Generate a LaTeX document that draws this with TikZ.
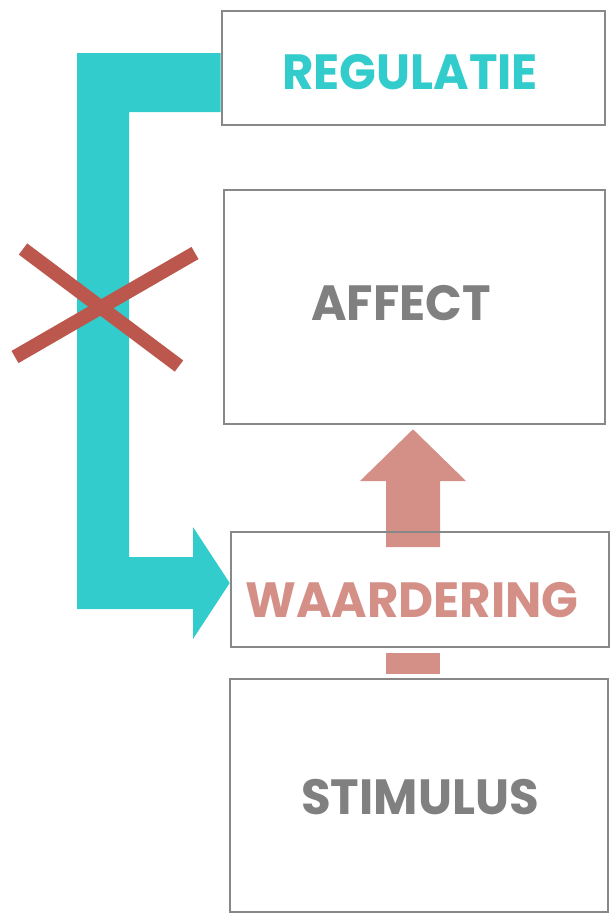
\documentclass[tikz,border=0pt]{standalone}
\usepackage{fontspec}
\setmainfont{Poppins}[FakeStretch=0.975]
\usetikzlibrary{calc}
\pgfdeclarelayer{background}
\pgfsetlayers{background,main}
\definecolor{tealc}{HTML}{33CCCC}
\definecolor{pinkc}{HTML}{D48F87}
\definecolor{redc}{HTML}{BB574C}
\definecolor{boxgray}{HTML}{888888}
\definecolor{txtgray}{HTML}{808080}
\tikzset{
  stagebox/.style={draw=boxgray, line width=2.6pt, inner sep=0pt, anchor=center},
  label/.style={inner sep=0pt, font=\fontsize{49.5}{50}\selectfont\bfseries},
  crossbar/.style={draw=redc, line width=14pt},
}
\begin{document}
\begin{tikzpicture}[x=1pt,y=-1pt]
  \useasboundingbox (0,0) rectangle (610,913);
  % stage boxes
  \node[stagebox, minimum width=383pt, minimum height=114pt] (reg) at (413.5,68) {};
  \node[stagebox, minimum width=381pt, minimum height=234pt] (aff) at (414.5,307) {};
  \node[stagebox, minimum width=378pt, minimum height=115pt] (waa) at (420,589.5) {};
  \node[stagebox, minimum width=378pt, minimum height=233pt] (sti) at (419,795.5) {};
  % labels
  \node[label, text=tealc] (regt) at (410,72) {REGULATIE};
  \node[label, text=txtgray] (afft) at (401,303) {AFFECT};
  \node[label, text=pinkc] (waat) at (412,600) {WAARDERING};
  \node[label, text=txtgray] (stit) at (420,797) {STIMULUS};
  % arrow tips
  \coordinate (looptip) at (waa.west |- 0,583);
  \coordinate (uptip) at ($(aff.south -| 413,0)+(0,4)$);
  \begin{pgfonlayer}{background}
    % regulation loop from REGULATIE back into WAARDERING
    \fill[tealc] (77,53) -- (reg.west |- 0,53) -- (reg.west |- 0,112) -- (129,112)
      -- (129,557) -- (193,557) -- (193,527) -- (looptip) -- (193,639)
      -- (193,609) -- (77,609) -- cycle;
    % appraisal feeds affect
    \fill[pinkc] (386,547) -- (386,481) -- (360,481) -- (uptip)
      -- (466,481) -- (440,481) -- (440,547) -- cycle;
    % stimulus feeds appraisal
    \fill[pinkc] (386,653) rectangle (440,674);
  \end{pgfonlayer}
  % the blocked loop
  \coordinate (xa) at (23,249);
  \coordinate (xb) at (179,366);
  \coordinate (xc) at (15,357);
  \coordinate (xd) at (195,253);
  \draw[crossbar] (xa) -- (xb);
  \draw[crossbar] (xc) -- (xd);
\end{tikzpicture}
\end{document}
